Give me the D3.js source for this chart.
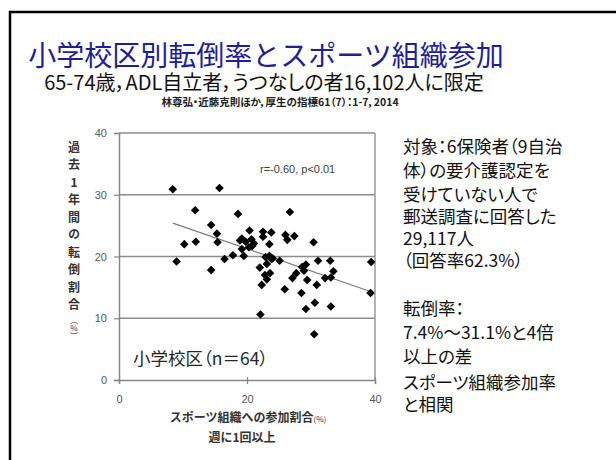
<!DOCTYPE html>
<html><head><meta charset="utf-8">
<script src="https://cdn.jsdelivr.net/npm/d3@7"></script>
<style>
html,body{margin:0;padding:0;background:#fff;}
svg{display:block;}
.palt{font-feature-settings:"palt";}
</style>
</head><body>
<svg id="chart" width="616" height="460"></svg>
<script>
// ---- data ----
const participation = [8.4,15.7,11.9,18.6,26.7,14.4,15.3,15.4,10.2,12.0,9.0,14.4,16.5,17.8,19.5,19.2,18.9,19.2,20.4,20.7,21.1,20.8,22.5,22.5,23.8,23.5,26.0,26.3,27.4,30.4,22.9,23.5,23.8,25.1,22.0,23.1,23.6,23.1,22.3,25.9,27.1,27.7,28.6,29.2,28.9,29.4,28.5,31.1,30.9,33.0,32.2,33.5,33.1,39.4,39.3,22.1,29.2,30.6,33.1,30.5,19.8,20.3,24.0,22.8];
const fallRate = [30.9,31.1,27.5,26.9,27.2,25.1,23.7,22.3,22.0,22.4,19.2,17.8,19.6,20.2,20.1,21.2,22.6,22.9,24.2,22.8,22.1,21.7,24.0,23.2,23.9,22.0,23.5,22.7,23.3,22.3,19.9,20.1,19.6,19.3,18.2,18.8,17.3,16.3,15.4,14.7,16.5,17.3,18.3,18.7,17.7,16.2,14.1,19.3,15.4,19.3,16.5,17.6,16.6,19.1,14.1,10.6,11.5,12.5,11.9,7.4,22.4,21.5,19.7,17.0];
const trendX = [8.4, 39.4];
const trendY = [25.4, 14.3];
const xTicks = [0, 20, 40];
const yTicks = [0, 10, 20, 30, 40];
const title = "小学校区別転倒率とスポーツ組織参加";
const subtitle = "65-74歳，ADL自立者，うつなしの者16,102人に限定";
const citation = "林尊弘・近藤克則ほか，厚生の指標61（7）：1-7，2014";
const yTitleMain = "過去1年間の転倒割合";
const yTitleUnit = "（%）";
const xTitleMain = "スポーツ組織への参加割合";
const xTitleUnit = "(%)";
const xTitle2 = "週に1回以上";
const statText = "r=-0.60, p<0.01";
const nLabel = "小学校区（n＝64）";
const noteLines = ["対象：6保険者（9自治","体）の要介護認定を","受けていない人で","郵送調査に回答した","29,117人","（回答率62.3%）","","転倒率：","7.4%～31.1%と4倍","以上の差","スポーツ組織参加率","と相関"];

// ---- drawing ----
const svg = d3.select("#chart");
const JP = "'Noto Sans CJK JP','Noto Sans',sans-serif";

svg.append("rect").attr("x",10).attr("y",12).attr("width",620).attr("height",470)
  .attr("fill","#fff").attr("stroke","#000").attr("stroke-width",2.5);

svg.append("text").attr("x",266).attr("y",66).attr("text-anchor","middle")
  .attr("font-family",JP).attr("font-size",28).attr("fill","#1e1e98").text(title);
svg.append("text").attr("class","palt").attr("x",264).attr("y",90).attr("text-anchor","middle")
  .attr("font-family",JP).attr("font-size",20).attr("fill","#111").text(subtitle);
svg.append("text").attr("class","palt").attr("x",280).attr("y",106).attr("text-anchor","middle")
  .attr("font-family",JP).attr("font-size",10.5).attr("font-weight","bold").attr("fill","#222").text(citation);

const x = d3.scaleLinear().domain([0,40]).range([119,375]);
const y = d3.scaleLinear().domain([0,40]).range([380,133]);

// gridlines
svg.append("g").selectAll("line").data(yTicks.filter(d=>d>0)).join("line")
  .attr("x1",x(0)).attr("x2",x(40)).attr("y1",d=>y(d)).attr("y2",d=>y(d))
  .attr("stroke","#8c8c8c").attr("stroke-width",1.5);
// right border
svg.append("line").attr("x1",x(40)).attr("x2",x(40)).attr("y1",y(40)).attr("y2",y(0))
  .attr("stroke","#9a9a9a").attr("stroke-width",1.5);

// y axis
const yAxis = svg.append("g").attr("transform",`translate(${x(0)},0)`)
  .call(d3.axisLeft(y).tickValues(yTicks).tickSize(5).tickPadding(7));
yAxis.select(".domain").attr("stroke","#868686").attr("stroke-width",1.5);
yAxis.selectAll(".tick line").attr("stroke","#868686").attr("stroke-width",1.2);
yAxis.selectAll(".tick text").attr("font-family","'Liberation Sans',Arial,sans-serif")
  .attr("font-size",11).attr("fill","#595959");

// x axis
const xAxis = svg.append("g").attr("transform",`translate(0,${y(0)})`)
  .call(d3.axisBottom(x).tickValues(xTicks).tickSize(4).tickPadding(11));
xAxis.select(".domain").attr("stroke","#868686").attr("stroke-width",1.5);
xAxis.selectAll(".tick line").attr("stroke","#868686").attr("stroke-width",1.2).attr("y1",-3);
xAxis.selectAll(".tick text").attr("font-family","'Liberation Sans',Arial,sans-serif")
  .attr("font-size",11).attr("fill","#595959");

// trend line
svg.append("line").attr("x1",x(trendX[0])).attr("y1",y(trendY[0]))
  .attr("x2",x(trendX[1])).attr("y2",y(trendY[1]))
  .attr("stroke","#7a7a7a").attr("stroke-width",1.2);

// points (diamonds)
const pts = participation.map((v,i)=>({x:v,y:fallRate[i]}));
const r = 4.3;
svg.append("g").selectAll("path").data(pts).join("path")
  .attr("d",`M0,${-r}L${r},0L0,${r}L${-r},0Z`)
  .attr("transform",d=>`translate(${x(d.x)},${y(d.y)})`)
  .attr("fill","#000");

// stat text
svg.append("text").attr("x",260).attr("y",173).attr("font-family","'Liberation Sans',Arial,sans-serif")
  .attr("font-size",11).attr("fill","#404040").text(statText);

// n label
svg.append("text").attr("class","palt").attr("x",133).attr("y",365).attr("font-family",JP)
  .attr("font-size",17.5).attr("fill","#262626").text(nLabel);

// y title (vertical)
const yt = svg.append("text").attr("x",74).attr("y",141)
  .attr("font-family",JP).attr("font-size",12).attr("font-weight","bold").attr("fill","#333")
  .style("writing-mode","vertical-rl").style("text-orientation","upright");
yt.append("tspan").style("letter-spacing","5.5px").text(yTitleMain);
yt.append("tspan").attr("font-size",8).attr("font-weight","normal").text(yTitleUnit);

// x title
const xt = svg.append("text").attr("x",248).attr("y",422).attr("text-anchor","middle")
  .attr("font-family",JP).attr("font-size",12).attr("font-weight","bold").attr("fill","#333");
xt.append("tspan").text(xTitleMain);
xt.append("tspan").attr("font-size",8).attr("font-weight","normal").text(xTitleUnit);
svg.append("text").attr("x",242).attr("y",442).attr("text-anchor","middle")
  .attr("font-family",JP).attr("font-size",12).attr("font-weight","bold").attr("fill","#333").text(xTitle2);

// notes
const noteY = [153,177,201,223,245,267,0,315,339,363,389,411];
svg.append("g").selectAll("text").data(noteLines.map((t,i)=>({t,y:noteY[i]})).filter(d=>d.t))
  .join("text").attr("class","palt").attr("x",403).attr("y",d=>d.y).attr("font-family",JP)
  .attr("font-size",17.5).attr("fill","#111").text(d=>d.t);
</script>
</body></html>
